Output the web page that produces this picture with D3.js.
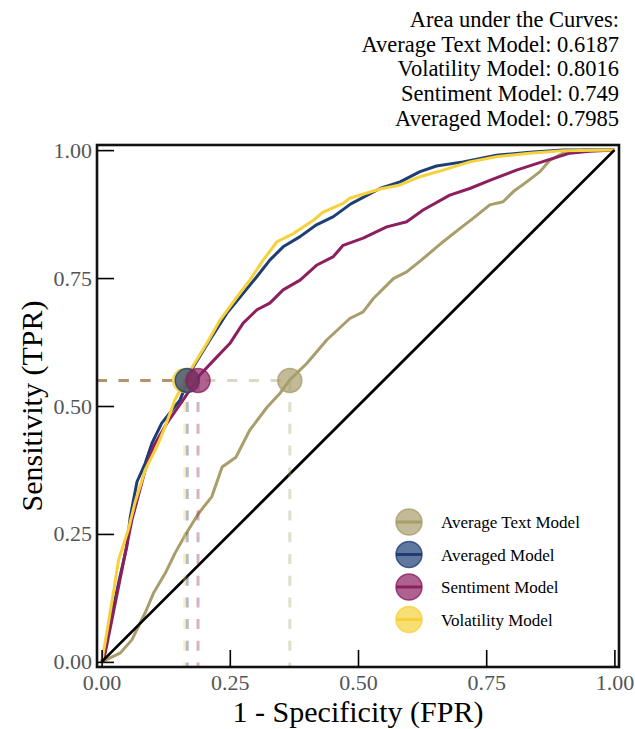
<!DOCTYPE html>
<meta charset="utf-8">
<head>
  <meta charset="utf-8">
  <title>ROC Curves</title>
  <style>
    body { margin: 0; background: #fff; }
    text { font-family: "Liberation Serif", "Times New Roman", serif; }
  </style>
</head>
<body>
<script src="https://cdn.jsdelivr.net/npm/d3@7"></script>
<script>

// model names (legend order) and colours
var models = ["Average Text Model", "Averaged Model", "Sentiment Model", "Volatility Model"];
var colors = ["#a99d6b", "#1f3d75", "#8c1f5f", "#f5d13b"];

// ROC points [fpr, tpr]
var avgTextRoc = [[0,0],[0.036,0.017],[0.059,0.043],[0.085,0.096],[0.101,0.134],[0.124,0.173],
  [0.143,0.212],[0.163,0.248],[0.189,0.290],[0.215,0.323],[0.235,0.381],[0.262,0.400],
  [0.289,0.453],[0.323,0.498],[0.348,0.525],[0.367,0.551],[0.400,0.583],[0.439,0.629],
  [0.484,0.671],[0.510,0.684],[0.530,0.710],[0.569,0.749],[0.595,0.762],[0.627,0.788],
  [0.666,0.821],[0.699,0.847],[0.725,0.867],[0.757,0.893],[0.783,0.899],[0.803,0.919],
  [0.829,0.938],[0.855,0.958],[0.874,0.980],[0.900,0.994],[0.939,1],[1,1]];

var averagedRoc = [[0,0],[0.004,0.004],[0.013,0.057],[0.023,0.108],[0.036,0.167],[0.049,0.225],
  [0.056,0.284],[0.069,0.352],[0.085,0.388],[0.098,0.427],[0.117,0.466],[0.153,0.512],
  [0.179,0.577],[0.211,0.629],[0.244,0.681],[0.276,0.720],[0.303,0.753],[0.328,0.785],
  [0.354,0.811],[0.387,0.831],[0.419,0.854],[0.452,0.870],[0.486,0.895],[0.543,0.925],
  [0.582,0.938],[0.621,0.958],[0.653,0.969],[0.705,0.977],[0.770,0.990],[0.835,0.996],
  [0.900,1],[1,1]];

var sentimentRoc = [[0,0],[0.007,0.018],[0.020,0.082],[0.033,0.147],[0.046,0.212],[0.059,0.277],
  [0.085,0.375],[0.101,0.421],[0.127,0.466],[0.159,0.512],[0.192,0.561],[0.225,0.596],
  [0.250,0.622],[0.276,0.662],[0.303,0.688],[0.328,0.701],[0.354,0.727],[0.387,0.746],
  [0.419,0.775],[0.452,0.792],[0.471,0.814],[0.510,0.828],[0.556,0.850],[0.595,0.860],
  [0.627,0.883],[0.679,0.912],[0.718,0.925],[0.757,0.941],[0.809,0.961],[0.868,0.980],
  [0.913,0.994],[0.952,0.998],[1,1]];

var volatilityRoc = [[0,0],[0.001,0.004],[0.010,0.057],[0.023,0.135],[0.033,0.199],[0.052,0.258],
  [0.065,0.311],[0.085,0.375],[0.108,0.421],[0.124,0.460],[0.143,0.512],[0.173,0.570],
  [0.205,0.622],[0.231,0.668],[0.264,0.713],[0.289,0.746],[0.315,0.785],[0.342,0.821],
  [0.374,0.837],[0.413,0.863],[0.432,0.879],[0.471,0.896],[0.484,0.906],[0.543,0.924],
  [0.582,0.932],[0.621,0.948],[0.666,0.961],[0.718,0.977],[0.770,0.987],[0.835,0.994],
  [0.900,0.999],[1,1]];

var rocs = [avgTextRoc, averagedRoc, sentimentRoc, volatilityRoc];

// operating points marked on each curve
var cutoffFpr = [0.367, 0.167, 0.188, 0.162];
var cutoffTpr = 0.55;
// order the dots are stacked in (yellow sits under blue, pink on top)
var dotOrder = [0, 3, 1, 2];

// AUC annotation (its own order)
var aucNames = ["Average Text Model", "Volatility Model", "Sentiment Model", "Averaged Model"];
var aucValues = ["0.6187", "0.8016", "0.749", "0.7985"];

var tickValues = [0, 0.25, 0.5, 0.75, 1];

// plot frame in pixels
var W = 635, H = 729;
var frame = {left: 97, right: 619, top: 145, bottom: 667};

var x = d3.scaleLinear().domain([-0.009, 1.009]).range([frame.left, frame.right]);
var y = d3.scaleLinear().domain([-0.01, 1.01]).range([frame.bottom, frame.top]);

var svg = d3.select("body").append("svg")
    .attr("width", W)
    .attr("height", H);

var line = d3.line()
    .x(function(d) { return x(d[0]); })
    .y(function(d) { return y(d[1]); });

// curves
rocs.forEach(function(r, i) {
  svg.append("path")
      .datum(r)
      .attr("d", line)
      .attr("fill", "none")
      .attr("stroke", colors[i])
      .attr("stroke-width", 3)
      .attr("stroke-linejoin", "round");
});

// chance line
svg.append("path")
    .datum([[0, 0], [1, 1]])
    .attr("d", line)
    .attr("stroke", "#000")
    .attr("stroke-width", 2.8);

// dashed guides to the operating points
cutoffFpr.forEach(function(f, i) {
  svg.append("line")
      .attr("x1", x(x.domain()[0])).attr("x2", x(f))
      .attr("y1", y(cutoffTpr)).attr("y2", y(cutoffTpr))
      .attr("stroke", colors[i]).attr("stroke-opacity", 0.4)
      .attr("stroke-width", 3).attr("stroke-dasharray", "10,11.7");
  svg.append("line")
      .attr("x1", x(f)).attr("x2", x(f))
      .attr("y1", y(cutoffTpr)).attr("y2", y(y.domain()[0]))
      .attr("stroke", colors[i]).attr("stroke-opacity", 0.35)
      .attr("stroke-width", 3).attr("stroke-dasharray", "10,11.7");
});

// operating point dots
svg.selectAll(".dot")
    .data(dotOrder)
    .enter().append("circle")
    .attr("class", "dot")
    .attr("cx", function(k) { return x(cutoffFpr[k]); })
    .attr("cy", y(cutoffTpr))
    .attr("r", 12)
    .attr("fill", function(k) { return colors[k]; })
    .attr("fill-opacity", 0.7)
    .attr("stroke", function(k) { return colors[k]; })
    .attr("stroke-opacity", 0.8)
    .attr("stroke-width", 1.5);

// frame
svg.append("rect")
    .attr("x", frame.left).attr("y", frame.top)
    .attr("width", frame.right - frame.left).attr("height", frame.bottom - frame.top)
    .attr("fill", "none")
    .attr("stroke", "#111")
    .attr("stroke-width", 2.6);

// axes, ticks pointing in
var fmt = d3.format(".2f");

var xAxis = svg.append("g")
    .attr("transform", "translate(0," + frame.bottom + ")")
    .call(d3.axisBottom(x).tickValues(tickValues).tickFormat(fmt)
          .tickSize(-17).tickPadding(7));

var yAxis = svg.append("g")
    .attr("transform", "translate(" + frame.left + ",0)")
    .call(d3.axisLeft(y).tickValues(tickValues).tickFormat(fmt)
          .tickSize(-17).tickPadding(5));

[xAxis, yAxis].forEach(function(a) {
  a.select(".domain").remove();
  a.selectAll(".tick line").attr("stroke", "#000").attr("stroke-width", 1.6);
  a.selectAll(".tick text")
      .attr("fill", "#555")
      .style("font-family", "'Liberation Serif', 'Times New Roman', serif")
      .style("font-size", "22px");
});

// axis titles
svg.append("text")
    .attr("x", (x(0) + x(1)) / 2)
    .attr("y", 722)
    .attr("text-anchor", "middle")
    .style("font-size", "30px")
    .text("1 - Specificity (FPR)");

svg.append("text")
    .attr("transform", "translate(42," + ((y(0) + y(1)) / 2) + ") rotate(-90)")
    .attr("text-anchor", "middle")
    .style("font-size", "30px")
    .text("Sensitivity (TPR)");

// AUC annotation
var note = ["Area under the Curves:"].concat(aucNames.map(function(n, i) {
  return n + ": " + aucValues[i];
}));
svg.selectAll(".note")
    .data(note)
    .enter().append("text")
    .attr("class", "note")
    .attr("x", 619)
    .attr("y", function(d, i) { return 27 + i * 24.7; })
    .attr("text-anchor", "end")
    .style("font-size", "22.5px")
    .text(function(d) { return d; });

// legend
var legend = svg.selectAll(".legend")
    .data(models)
    .enter().append("g")
    .attr("class", "legend")
    .attr("transform", function(d, i) { return "translate(409," + (522 + i * 32.5) + ")"; });

legend.append("line")
    .attr("x1", -13).attr("x2", 13)
    .attr("stroke", function(d, i) { return colors[i]; })
    .attr("stroke-width", 3);

legend.append("circle")
    .attr("r", 13)
    .attr("fill", function(d, i) { return colors[i]; })
    .attr("fill-opacity", 0.7)
    .attr("stroke", function(d, i) { return colors[i]; })
    .attr("stroke-opacity", 0.8)
    .attr("stroke-width", 1.5);

legend.append("text")
    .attr("x", 32)
    .attr("y", 6)
    .style("font-size", "17px")
    .text(function(d) { return d; });

</script>
</body>
